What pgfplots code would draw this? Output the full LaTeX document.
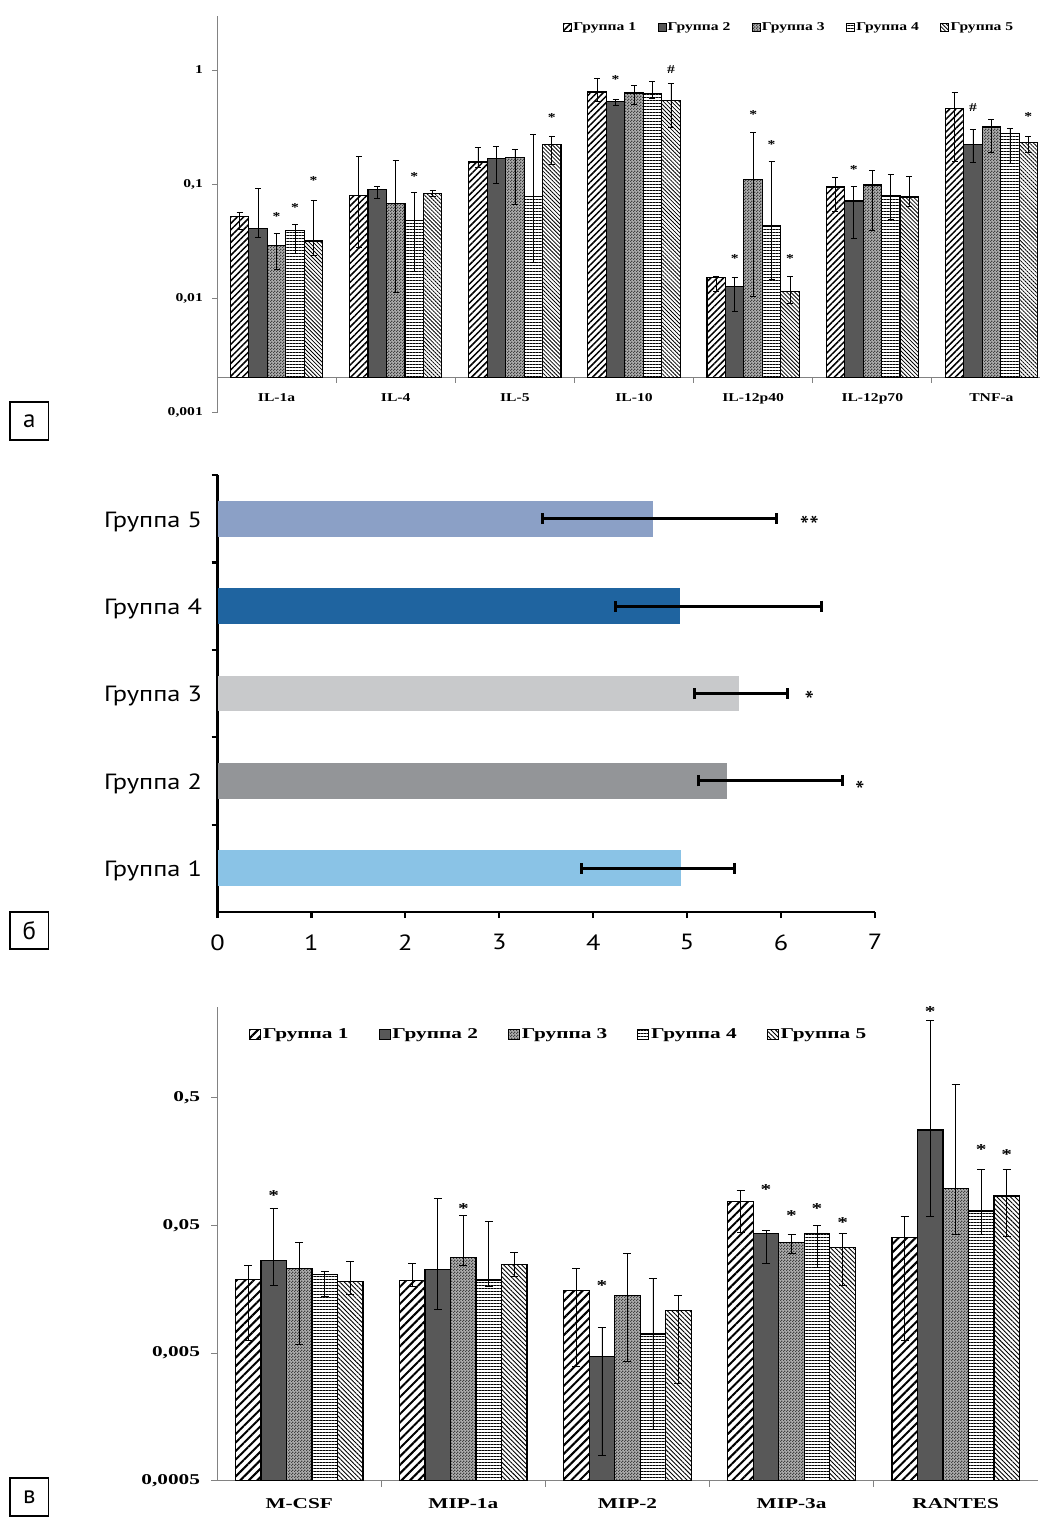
\documentclass[border=0pt]{standalone}
\usepackage{pgfplots}
\pgfplotsset{compat=1.18}
\usepackage{pgfplotstable}
\usepackage{graphicx}
\usepackage{fontspec}
\setmainfont{Liberation Serif}
\newfontfamily\sansf{PT Sans}
\usetikzlibrary{patterns,patterns.meta}

\pgfdeclarepatternformonly{finecheck}{\pgfpointorigin}{\pgfpoint{3pt}{3pt}}{\pgfpoint{3pt}{3pt}}{%
  \pgfpathrectangle{\pgfpointorigin}{\pgfpoint{1.5pt}{1.5pt}}%
  \pgfpathrectangle{\pgfpoint{1.5pt}{1.5pt}}{\pgfpoint{1.5pt}{1.5pt}}%
  \pgfusepath{fill}}

\newcommand\ta[1]{\scalebox{1.3}[1]{\fontsize{12}{14}\selectfont\bfseries #1}}
\newcommand\tv[1]{\scalebox{1.42}[1]{\fontsize{15}{18}\selectfont\bfseries #1}}
\newcommand\tb[1]{\scalebox{1.2}[1]{\fontsize{22}{26}\selectfont\sansf #1}}

\definecolor{axgray}{RGB}{130,130,130}
\definecolor{gtwo}{RGB}{88,88,88}
\definecolor{gthree}{RGB}{175,175,175}
\definecolor{bA}{RGB}{138,195,230}
\definecolor{bB}{RGB}{147,149,152}
\definecolor{bC}{RGB}{200,201,203}
\definecolor{bD}{RGB}{31,100,160}
\definecolor{bE}{RGB}{139,160,198}

% ---------- panel a: x y hi lo ----------
\pgfplotstableread{
x y hi lo
0 0.0519 0.0567 0.0397
1 0.0798 0.176 0.028
2 0.156 0.211 0.141
3 0.641 0.851 0.527
4 0.0151 0.0156 0.0114
5 0.0941 0.1145 0.058
6 0.461 0.632 0.157
}\taA
\pgfplotstableread{
x y hi lo
0 0.0408 0.0919 0.0342
1 0.0895 0.0945 0.0756
2 0.167 0.212 0.102
3 0.531 0.553 0.49
4 0.0127 0.0153 0.0076
5 0.071 0.0947 0.0334
6 0.223 0.30 0.155
}\taB
\pgfplotstableread{
x y hi lo
0 0.0291 0.0371 0.0179
1 0.067 0.162 0.0113
2 0.172 0.203 0.0657
3 0.628 0.734 0.50
4 0.11 0.282 0.0103
5 0.098 0.132 0.039
6 0.316 0.369 0.19
}\taC
\pgfplotstableread{
x y hi lo
0 0.0389 0.0445 0.0245
1 0.0482 0.0842 0.0171
2 0.0774 0.273 0.0206
3 0.62 0.796 0.568
4 0.0428 0.158 0.0146
5 0.0785 0.122 0.0493
6 0.275 0.31 0.152
}\taD
\pgfplotstableread{
x y hi lo
0 0.0316 0.0712 0.0235
1 0.0825 0.0883 0.0777
2 0.223 0.264 0.15
3 0.545 0.758 0.312
4 0.0114 0.0154 0.009
5 0.0769 0.116 0.0632
6 0.23 0.262 0.188
}\taE

% ---------- panel v: x y hi lo ----------
\pgfplotstableread{
x y hi lo
0 0.0188 0.0241 0.0063
1 0.0185 0.0252 0.0165
2 0.0155 0.0229 0.0039
3 0.0767 0.093 0.0441
4 0.0401 0.0582 0.0063
}\tvA
\pgfplotstableread{
x y hi lo
0 0.0265 0.068 0.0168
1 0.0224 0.081 0.011
2 0.00472 0.0079 0.00079
3 0.0431 0.0458 0.025
4 0.2776 2.01 0.0589
}\tvB
\pgfplotstableread{
x y hi lo
0 0.0228 0.0364 0.00583
1 0.028 0.06 0.0241
2 0.014 0.030 0.00427
3 0.0367 0.0426 0.0299
4 0.097 0.632 0.0423
}\tvC
\pgfplotstableread{
x y hi lo
0 0.0205 0.0219 0.0139
1 0.0186 0.0535 0.0167
2 0.00703 0.019 0.00126
3 0.0431 0.0495 0.0235
4 0.0645 0.137 0.0423
}\tvD
\pgfplotstableread{
x y hi lo
0 0.0182 0.0259 0.0144
1 0.0247 0.0306 0.0197
2 0.0108 0.0141 0.00289
3 0.0333 0.0434 0.017
4 0.0845 0.136 0.0411
}\tvE

\pgfplotsset{
 pA1/.style={draw=black, line width=1.1pt, pattern={Lines[angle=45,distance=4.5pt,line width=1.5pt]}},
 pA2/.style={draw=black, line width=1.1pt, fill=gtwo},
 pA3/.style={draw=black, line width=1.1pt, fill=gthree, postaction={pattern=finecheck, pattern color=black!75}},
 pA4/.style={draw=black, line width=1.1pt, pattern={Lines[angle=0,distance=3pt,line width=1pt]}},
 pA5/.style={draw=black, line width=1.1pt, pattern={Lines[angle=-45,distance=2.8pt,line width=0.8pt]}},
 pV1/.style={draw=black, line width=1.3pt, pattern={Lines[angle=45,distance=6pt,line width=2pt]}},
 pV2/.style={draw=black, line width=1.3pt, fill=gtwo},
 pV3/.style={draw=black, line width=1.3pt, fill=gthree, postaction={pattern=finecheck, pattern color=black!75}},
 pV4/.style={draw=black, line width=1.3pt, pattern={Lines[angle=0,distance=3pt,line width=1pt]}},
 pV5/.style={draw=black, line width=1.3pt, pattern={Lines[angle=-45,distance=3.2pt,line width=0.9pt]}},
 ebA/.style={error bars/.cd, y dir=both, y explicit,
   error bar style={line width=0.7pt,black,solid},
   error mark options={rotate=90,line width=0.7pt,black,mark size=3pt,solid}},
 ebV/.style={error bars/.cd, y dir=both, y explicit,
   error bar style={line width=0.8pt,black,solid},
   error mark options={rotate=90,line width=0.8pt,black,mark size=4pt,solid}},
 ebB/.style={error bars/.cd, x dir=both, x explicit,
   error bar style={line width=3pt,black},
   error mark options={rotate=90,line width=3pt,black,mark size=5.5pt}},
}

\begin{document}
\begin{tikzpicture}
\path[use as bounding box] (0pt,0pt) rectangle (1040pt,-1517pt);

% ================= panel a =================
\begin{axis}[
 at={(217pt,-377.7pt)}, anchor=south west, scale only axis,
 width=834pt, height=362.1pt,
 xmin=-0.5, xmax=6.5, ymode=log, ymin=0.002, ymax=3, log origin=infty,
 axis x line*=bottom, axis y line*=left,
 axis line style={-, axgray, line width=0.8pt},
 ybar, bar width=0.155,
 tick align=outside, major tick length=5pt,
 tick style={axgray, line width=0.8pt},
 xtick={0.5,1.5,...,5.5}, xticklabels={},
 extra x ticks={0,...,6},
 extra x tick labels={\ta{IL-1a},\ta{IL-4},\ta{IL-5},\ta{IL-10},\ta{IL-12p40},\ta{IL-12p70},\ta{TNF-a}},
 extra x tick style={major tick length=0pt, tick style={draw=none}, xticklabel style={yshift=-12pt}},
 ytick={0.01,0.1,1}, yticklabels={\ta{0,01},\ta{0,1},\ta{1}},
 yminorticks=false, xminorticks=false,
 yticklabel style={inner sep=0pt, xshift=-9pt},
 clip=false,
 legend columns=5,
 legend style={draw=none, fill=none, at={(0.415,0.9685)}, anchor=west, inner sep=0pt,
   nodes={inner sep=1.5pt}, /tikz/every even column/.append style={column sep=20pt}},
 legend image code/.code={\draw[#1,/tikz/.cd,line width=0.6pt] (0pt,-4pt) rectangle (8pt,4pt);},
]
\addplot[pA1, bar shift=-0.31, ebA] table[x=x,y=y,y error plus expr=\thisrow{hi}-\thisrow{y},y error minus expr=\thisrow{y}-\thisrow{lo}] {\taA};
\addplot[pA2, bar shift=-0.155, ebA] table[x=x,y=y,y error plus expr=\thisrow{hi}-\thisrow{y},y error minus expr=\thisrow{y}-\thisrow{lo}] {\taB};
\addplot[pA3, bar shift=0, ebA] table[x=x,y=y,y error plus expr=\thisrow{hi}-\thisrow{y},y error minus expr=\thisrow{y}-\thisrow{lo}] {\taC};
\addplot[pA4, bar shift=0.155, ebA] table[x=x,y=y,y error plus expr=\thisrow{hi}-\thisrow{y},y error minus expr=\thisrow{y}-\thisrow{lo}] {\taD};
\addplot[pA5, bar shift=0.31, ebA] table[x=x,y=y,y error plus expr=\thisrow{hi}-\thisrow{y},y error minus expr=\thisrow{y}-\thisrow{lo}] {\taE};
\legend{\ta{Группа 1},\ta{Группа 2},\ta{Группа 3},\ta{Группа 4},\ta{Группа 5}}
% axis extension down to 0,001
\draw[axgray, line width=0.8pt] (axis cs:-0.5,0.002) -- (axis cs:-0.5,0.001) -- ++(-5pt,0pt);
\node[anchor=east, inner sep=0pt] at ([xshift=-14pt]axis cs:-0.5,0.001) {\ta{0,001}};
% significance marks
\node[inner sep=0pt] at (axis cs:0,0.052) {\ta{*}};
\node[inner sep=0pt] at (axis cs:0.155,0.0618) {\ta{*}};
\node[inner sep=0pt] at (axis cs:0.31,0.108) {\ta{*}};
\node[inner sep=0pt] at (axis cs:1.155,0.1155) {\ta{*}};
\node[inner sep=0pt] at (axis cs:2.31,0.382) {\ta{*}};
\node[inner sep=0pt] at (axis cs:2.845,0.817) {\ta{*}};
\node[inner sep=0pt] at (axis cs:3.31,1.01) {\ta{\#}};
\node[inner sep=0pt] at (axis cs:3.845,0.0223) {\ta{*}};
\node[inner sep=0pt] at (axis cs:4,0.403) {\ta{*}};
\node[inner sep=0pt] at (axis cs:4.155,0.224) {\ta{*}};
\node[inner sep=0pt] at (axis cs:4.31,0.0223) {\ta{*}};
\node[inner sep=0pt] at (axis cs:4.845,0.133) {\ta{*}};
\node[inner sep=0pt] at (axis cs:5.845,0.471) {\ta{\#}};
\node[inner sep=0pt] at (axis cs:6.31,0.389) {\ta{*}};
\end{axis}

% ================= panel b =================
\begin{axis}[
 at={(217.5pt,-912pt)}, anchor=south west, scale only axis,
 width=657.5pt, height=437pt,
 xmin=0, xmax=7, ymin=0.5, ymax=5.5,
 xbar, bar width=0.41,
 axis x line*=bottom, axis y line*=left,
 axis line style={-, black, line width=2.2pt},
 tick align=outside, major tick length=6pt,
 tick style={black, line width=2.2pt},
 xtick={0,...,7}, xticklabels={\tb{0},\tb{1},\tb{2},\tb{3},\tb{4},\tb{5},\tb{6},\tb{7}},
 xticklabel style={yshift=-13pt},
 ytick={1.5,2.5,...,5.5}, yticklabels={},
 extra y ticks={1,...,5},
 extra y tick labels={\tb{Группа 1},\tb{Группа 2},\tb{Группа 3},\tb{Группа 4},\tb{Группа 5}},
 extra y tick style={major tick length=0pt, tick style={draw=none}, yticklabel style={xshift=-12pt, yshift=-3pt}},
 clip=false,
]
\addplot[bar shift=0pt, fill=bA, draw=none, ebB] coordinates {(4.93,1) += (0.57,0) -= (1.06,0)};
\addplot[bar shift=0pt, fill=bB, draw=none, ebB] coordinates {(5.42,2) += (1.23,0) -= (0.30,0)};
\addplot[bar shift=0pt, fill=bC, draw=none, ebB] coordinates {(5.55,3) += (0.516,0) -= (0.47,0)};
\addplot[bar shift=0pt, fill=bD, draw=none, ebB] coordinates {(4.92,4) += (1.514,0) -= (0.684,0)};
\addplot[bar shift=0pt, fill=bE, draw=none, ebB] coordinates {(4.64,5) += (1.315,0) -= (1.184,0)};
\node[inner sep=0pt] at (axis cs:6.3,4.92) {\fontsize{27}{27}\selectfont\sansf **};
\node[inner sep=0pt] at (axis cs:6.3,2.92) {\fontsize{27}{27}\selectfont\sansf *};
\node[inner sep=0pt] at (axis cs:6.84,1.89) {\fontsize{27}{27}\selectfont\sansf *};
\end{axis}

% ================= panel v =================
\begin{axis}[
 at={(217.2pt,-1480.7pt)}, anchor=south west, scale only axis,
 width=820.5pt, height=473.7pt,
 xmin=-0.5, xmax=4.5, ymode=log, ymin=0.0005, ymax=2.55, log origin=infty,
 axis x line*=bottom, axis y line*=left,
 axis line style={-, axgray, line width=0.9pt},
 ybar, bar width=0.1555,
 tick align=outside, major tick length=6pt,
 tick style={axgray, line width=0.9pt},
 xtick={0.5,1.5,...,3.5}, xticklabels={},
 extra x ticks={0,...,4},
 extra x tick labels={\tv{M-CSF},\tv{MIP-1a},\tv{MIP-2},\tv{MIP-3a},\tv{RANTES}},
 extra x tick style={major tick length=0pt, tick style={draw=none}, xticklabel style={yshift=-14pt}},
 ytick={0.0005,0.005,0.05,0.5}, yticklabels={\tv{0,0005},\tv{0,005},\tv{0,05},\tv{0,5}},
 yminorticks=false, xminorticks=false,
 yticklabel style={inner sep=0pt, xshift=-11pt},
 clip=false,
 legend columns=5,
 legend style={draw=none, fill=none, at={(0.0388,0.943)}, anchor=west, inner sep=0pt,
   nodes={inner sep=2pt}, /tikz/every even column/.append style={column sep=28pt}},
 legend image code/.code={\draw[#1,/tikz/.cd,line width=0.8pt] (0pt,-5pt) rectangle (11pt,5pt);},
]
\addplot[pV1, bar shift=-0.311, ebV] table[x=x,y=y,y error plus expr=\thisrow{hi}-\thisrow{y},y error minus expr=\thisrow{y}-\thisrow{lo}] {\tvA};
\addplot[pV2, bar shift=-0.1555, ebV] table[x=x,y=y,y error plus expr=\thisrow{hi}-\thisrow{y},y error minus expr=\thisrow{y}-\thisrow{lo}] {\tvB};
\addplot[pV3, bar shift=0, ebV] table[x=x,y=y,y error plus expr=\thisrow{hi}-\thisrow{y},y error minus expr=\thisrow{y}-\thisrow{lo}] {\tvC};
\addplot[pV4, bar shift=0.1555, ebV] table[x=x,y=y,y error plus expr=\thisrow{hi}-\thisrow{y},y error minus expr=\thisrow{y}-\thisrow{lo}] {\tvD};
\addplot[pV5, bar shift=0.311, ebV] table[x=x,y=y,y error plus expr=\thisrow{hi}-\thisrow{y},y error minus expr=\thisrow{y}-\thisrow{lo}] {\tvE};
\legend{\tv{Группа 1},\tv{Группа 2},\tv{Группа 3},\tv{Группа 4},\tv{Группа 5}}
\node[inner sep=0pt] at (axis cs:-0.1555,0.086) {\tv{*}};
\node[inner sep=0pt] at (axis cs:1,0.0677) {\tv{*}};
\node[inner sep=0pt] at (axis cs:1.8445,0.0167) {\tv{*}};
\node[inner sep=0pt] at (axis cs:2.8445,0.0953) {\tv{*}};
\node[inner sep=0pt] at (axis cs:3,0.06) {\tv{*}};
\node[inner sep=0pt] at (axis cs:3.1555,0.0677) {\tv{*}};
\node[inner sep=0pt] at (axis cs:3.311,0.0523) {\tv{*}};
\node[inner sep=0pt] at (axis cs:3.8445,2.34) {\tv{*}};
\node[inner sep=0pt] at (axis cs:4.1555,0.194) {\tv{*}};
\node[inner sep=0pt] at (axis cs:4.311,0.177) {\tv{*}};
\end{axis}

% ================= panel letters =================
\draw[line width=1.5pt] (10pt,-402pt) rectangle (48.5pt,-440pt);
\node at (29.25pt,-421pt) {\fontsize{25}{28}\selectfont\sansf а};
\draw[line width=1.5pt] (10pt,-912pt) rectangle (48.5pt,-949pt);
\node at (29.25pt,-930.5pt) {\fontsize{25}{28}\selectfont\sansf б};
\draw[line width=1.5pt] (10pt,-1478pt) rectangle (48.5pt,-1516pt);
\node at (29.25pt,-1497pt) {\fontsize{25}{28}\selectfont\sansf в};
\end{tikzpicture}
\end{document}
